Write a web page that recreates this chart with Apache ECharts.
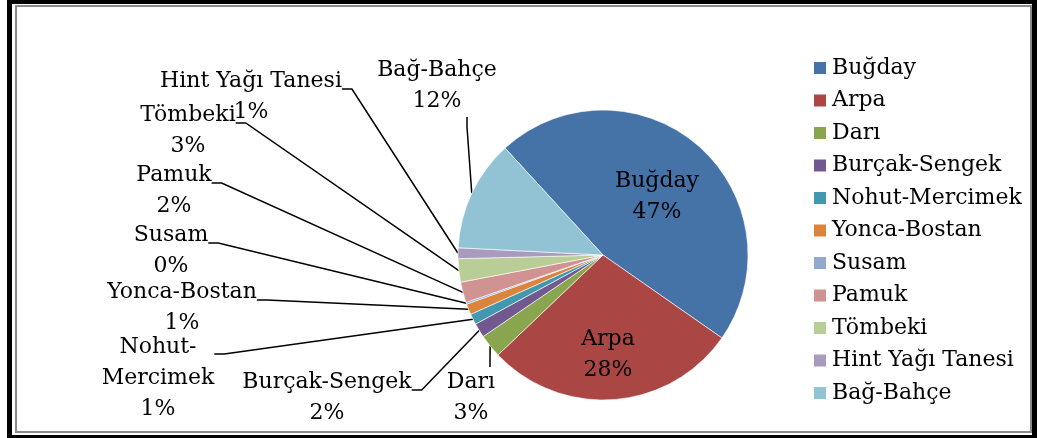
<!DOCTYPE html>
<html>
<head>
<meta charset="utf-8">
<title>pie</title>
<script src="https://cdn.jsdelivr.net/npm/echarts@6/dist/echarts.min.js"></script>
<style>
html, body { margin: 0; padding: 0; background: #fff; }
.frame {
  position: absolute; left: 7px; top: 0; width: 1030px; height: 438px;
  box-sizing: border-box; border-style: solid; border-color: #000;
  border-width: 4px 5px 3px 5px;
}
.inner {
  position: absolute; left: 15px; top: 5px; width: 1017px; height: 428px;
  box-sizing: border-box; border: 2px solid #8a8a8a;
}
#main { position: absolute; left: 0; top: 0; width: 1037px; height: 438px; }
</style>
</head>
<body>
<div class="frame"></div>
<div class="inner"></div>
<div id="main"></div>
<script>
// slice names, same order as legend
const categories = ['Buğday', 'Arpa', 'Darı', 'Burçak-Sengek', 'Nohut-Mercimek', 'Yonca-Bostan',
  'Susam', 'Pamuk', 'Tömbeki', 'Hint Yağı Tanesi', 'Bağ-Bahçe']
// shares in percent
const shares = [46.5, 28.2, 2.6, 1.6, 1.2, 1.2, 0.2, 2.3, 2.6, 1.2, 12.4]

const colors = ['#4572A7', '#AA4643', '#89A54E', '#71588F', '#4198AF', '#DB843D',
  '#93A9CF', '#D19392', '#B9CD96', '#A99BBD', '#92C3D4']
// where each label text sits (center of text block)
const labelPos = [[657, 197], [608, 355], [471, 398], [327, 398], [158, 378], [182, 308],
  [171, 251], [174, 191], [188, 131], [251, 97], [437, 86]]
// empty lead line height, pulls the leader line up to the name row like excel
const labelLead = [0, 0, 0, 16, 48, 16, 16, 16, 16, 16, 0]
// right padding, moves the hook point of the leader line to the right
const labelPadR = [0, 0, 38, 0, 0, 0, 0, 0, 0, 0, 60]

const font = 'DejaVu Serif'
const chart = echarts.init(document.getElementById('main'))

const seriesData = categories.map((name, i) => {
  const item = { name: name, value: shares[i], label: { padding: [0, labelPadR[i], 0, 0] } }
  if (i < 2) {
    item.label.position = 'inside'
    item.labelLine = { show: false }
  }
  let text = name === 'Nohut-Mercimek' ? 'Nohut-\nMercimek\n{d}%' : '{b}\n{d}%'
  if (labelLead[i] > 0) {
    text = '{lead' + labelLead[i] + '| }\n' + text
  }
  item.label.formatter = text
  return item
})

const option = {
  backgroundColor: 'transparent',
  color: colors,
  animation: false,
  legend: {
    orient: 'vertical',
    left: 812,
    top: 57,
    padding: 0,
    icon: 'rect',
    itemWidth: 14,
    itemHeight: 14,
    itemGap: 10.5,
    selectedMode: false,
    textStyle: { fontFamily: font, fontSize: 22, lineHeight: 22, color: '#000' },
    data: categories
  },
  series: [
    {
      type: 'pie',
      center: [603, 255],
      radius: 145,
      startAngle: 132.5,
      percentPrecision: 0,
      avoidLabelOverlap: false,
      itemStyle: { borderColor: '#fff', borderWidth: 0.6 },
      label: {
        show: true,
        position: 'outside',
        fontFamily: font,
        fontSize: 22,
        lineHeight: 31,
        color: '#000',
        align: 'center',
        rich: {
          lead16: { lineHeight: 16, fontSize: 8 },
          lead48: { lineHeight: 48, fontSize: 8 }
        }
      },
      labelLine: {
        show: true,
        length: 10,
        length2: 10,
        lineStyle: { color: '#000', width: 1.5 }
      },
      labelLayout: function (params) {
        const i = params.dataIndex
        const p = labelPos[i]
        return {
          x: p[0] + labelPadR[i] / 2,
          y: p[1] - labelLead[i] / 2,
          align: 'center',
          verticalAlign: 'middle'
        }
      },
      data: seriesData
    }
  ]
}
chart.setOption(option)
</script>
</body>
</html>
